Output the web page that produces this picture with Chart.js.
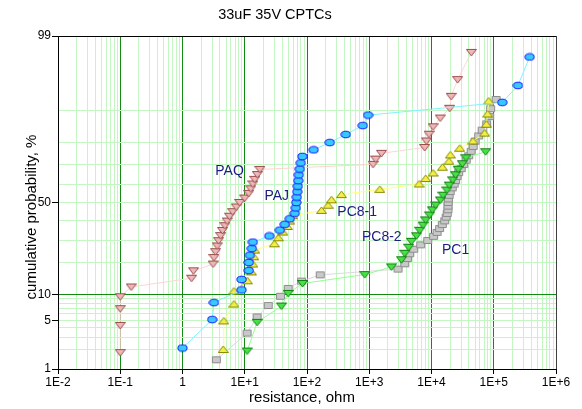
<!DOCTYPE html>
<html>
<head>
<meta charset="utf-8">
<script src="https://cdn.jsdelivr.net/npm/chart.js@4.4.0/dist/chart.umd.min.js"></script>
<style>
  html, body { margin: 0; padding: 0; background: #fff; }
</style>
</head>
<body>
<canvas id="chart" width="582" height="409"></canvas>
<script>
// failure data: resistance (ohm) against cumulative probability (%)
var seriesNames = ['PAJ', 'PAQ', 'PC8-1', 'PC8-2', 'PC1'];

var pajOhm = [1.0, 3.0, 3.2, 8.9, 8.9, 11.6, 11.6, 12.1, 13.0, 13.5, 24.8, 36.6, 44.0, 52.9, 63.7, 66.1, 67.3, 68.6, 69.8, 71.1, 72.4, 73.8, 76.6, 79.4, 84.1, 128, 232, 420, 787, 957, 137000, 245000, 377000];
var pajPct = [2.1, 5.1, 8.1, 11.1, 14.1, 17.1, 20.1, 23.1, 26.0, 29.0, 32.0, 35.0, 38.0, 41.0, 44.0, 47.0, 50.0, 53.0, 56.0, 59.0, 62.0, 65.0, 68.0, 71.0, 74.0, 76.9, 79.9, 82.9, 85.9, 88.9, 91.9, 94.9, 97.9];

var paqOhm = [0.1, 0.1, 0.1, 0.1, 0.15, 1.4, 1.5, 3.1, 3.2, 3.4, 3.6, 3.8, 4.1, 4.4, 4.8, 5.2, 5.7, 6.4, 7.3, 8.3, 10, 11.6, 12.5, 13.5, 14.5, 15.9, 17.5, 1150, 1270, 1570, 7780, 8280, 9120, 10600, 13800, 19600, 20700, 26300, 43700];
var paqPct = [1.8, 4.3, 6.9, 9.4, 11.9, 14.5, 17.0, 19.5, 22.1, 24.6, 27.2, 29.7, 32.2, 34.8, 37.3, 39.8, 42.4, 44.9, 47.5, 50.0, 52.5, 55.1, 57.6, 60.2, 62.7, 65.2, 67.8, 70.3, 72.8, 75.4, 77.9, 80.5, 83.0, 85.5, 88.1, 90.6, 93.1, 95.7, 98.2];

var pc81Ohm = [4.5, 4.6, 6.7, 6.7, 11.0, 12.8, 13.5, 14.0, 14.5, 29.9, 34.6, 40.9, 48.3, 52.9, 59.2, 171, 218, 247, 358, 1480, 6300, 8070, 10600, 15000, 19100, 20100, 28400, 46400, 71400, 76000, 79800, 82800];
var pc81Pct = [2.0, 4.9, 7.8, 10.8, 13.7, 16.6, 19.5, 22.4, 25.3, 28.2, 31.1, 34.0, 36.9, 39.8, 42.7, 45.6, 48.5, 51.5, 54.4, 57.3, 60.2, 63.1, 66.0, 68.9, 71.8, 74.7, 77.6, 80.5, 83.4, 86.3, 89.2, 92.2];

var pc82Ohm = [10.9, 15.8, 39.0, 49.8, 84.7, 847, 2270, 3290, 3720, 4310, 4750, 5730, 6470, 7310, 8070, 9350, 10300, 11700, 13900, 15300, 17700, 19200, 21900, 24400, 26800, 31300, 35800, 74100];
var pc82Pct = [1.9, 4.7, 7.4, 10.2, 12.9, 15.7, 18.4, 21.2, 23.9, 26.6, 29.4, 32.1, 34.9, 37.6, 40.4, 43.1, 45.9, 48.6, 51.4, 54.1, 56.9, 59.6, 62.4, 65.1, 67.9, 70.6, 73.4, 76.1];

var pc1Ohm = [3.5, 10.9, 15.8, 23.8, 37.6, 49.8, 81.6, 163, 2900, 3720, 4100, 4470, 5180, 6710, 8690, 10800, 12300, 13500, 14900, 16300, 17200, 17900, 18400, 18400, 18500, 18700, 19200, 20000, 21500, 23100, 24400, 25800, 27300, 30000, 32900, 36100, 39500, 43400, 46700, 50200, 57200, 65200, 76900, 85900, 89100, 109000];
var pc1Pct = [1.4, 3.4, 5.5, 7.5, 9.5, 11.5, 13.6, 15.6, 17.6, 19.6, 21.7, 23.7, 25.7, 27.7, 29.8, 31.8, 33.8, 35.8, 37.9, 39.9, 41.9, 43.9, 46.0, 48.0, 50.0, 52.0, 54.0, 56.1, 58.1, 60.1, 62.1, 64.2, 66.2, 68.2, 70.2, 72.3, 74.3, 76.3, 78.3, 80.4, 82.4, 84.4, 86.4, 88.5, 90.5, 92.5];

// where each series name is written (ohm, %)
var labelOhm = [32.7, 5.7, 640, 1590, 24400];
var labelPct = [53.8, 67, 44.9, 31.6, 25.2];

// axes
var decades = [0.01, 0.1, 1, 10, 100, 1000, 10000, 100000, 1000000];
var xTickLabels = ['1E-2', '1E-1', '1', '1E+1', '1E+2', '1E+3', '1E+4', '1E+5', '1E+6'];
var probLabels = [1, 5, 10, 50, 99];
var probGrid = [1, 2, 3, 4, 5, 6, 7, 8, 9, 10, 20, 30, 40, 50, 60, 70, 80, 90, 99];

var GRID_LIGHT = '#c4f6c4';
var GRID_DARK = '#108c10';

// inverse of the standard normal CDF (Acklam)
function probit(p) {
  var a = [-3.969683028665376e+01, 2.209460984245205e+02, -2.759285104469687e+02, 1.383577518672690e+02, -3.066479806614716e+01, 2.506628277459239e+00];
  var b = [-5.447609879822406e+01, 1.615858368580409e+02, -1.556989798598866e+02, 6.680131188771972e+01, -1.328068155288572e+01];
  var c = [-7.784894002430293e-03, -3.223964580411365e-01, -2.400758277161838e+00, -2.549732539343734e+00, 4.374664141464968e+00, 2.938163982698783e+00];
  var d = [7.784695709041462e-03, 3.224671290700398e-01, 2.445134137142996e+00, 3.754408661907416e+00];
  var q, r;
  if (p < 0.02425) {
    q = Math.sqrt(-2 * Math.log(p));
    return (((((c[0]*q+c[1])*q+c[2])*q+c[3])*q+c[4])*q+c[5]) / ((((d[0]*q+d[1])*q+d[2])*q+d[3])*q+1);
  }
  if (p > 1 - 0.02425) {
    q = Math.sqrt(-2 * Math.log(1 - p));
    return -(((((c[0]*q+c[1])*q+c[2])*q+c[3])*q+c[4])*q+c[5]) / ((((d[0]*q+d[1])*q+d[2])*q+d[3])*q+1);
  }
  q = p - 0.5; r = q * q;
  return (((((a[0]*r+a[1])*r+a[2])*r+a[3])*r+a[4])*r+a[5])*q / (((((b[0]*r+b[1])*r+b[2])*r+b[3])*r+b[4])*r+1);
}

// normal CDF, for pixel -> value
function normCdf(z) {
  var t = 1 / (1 + 0.2316419 * Math.abs(z));
  var y = 0.3989423 * Math.exp(-z * z / 2) * t * (0.3193815 + t * (-0.3565638 + t * (1.781478 + t * (-1.821256 + t * 1.330274))));
  return z > 0 ? 1 - y : y;
}

// normal probability paper axis, values in %
class ProbitScale extends Chart.LinearScale {
  determineDataLimits() {
    this.min = this.options.min;
    this.max = this.options.max;
  }
  buildTicks() {
    return probGrid.map(function (v) { return { value: v }; });
  }
  getPixelForValue(value) {
    var z0 = probit(this.min / 100), z1 = probit(this.max / 100);
    return this.getPixelForDecimal((probit(value / 100) - z0) / (z1 - z0));
  }
  getValueForPixel(pixel) {
    var z0 = probit(this.min / 100), z1 = probit(this.max / 100);
    return 100 * normCdf(z0 + this.getDecimalForPixel(pixel) * (z1 - z0));
  }
}
ProbitScale.id = 'probit';
ProbitScale.defaults = {};
Chart.register(ProbitScale);

function near(v, w) { return Math.abs(v / w - 1) < 1e-6; }
function decadeIndex(v) {
  for (var i = 0; i < decades.length; i++) if (near(v, decades[i])) return i;
  return -1;
}

var xGrid = [];
for (var e = -2; e <= 5; e++) {
  for (var m = 1; m <= 9; m++) xGrid.push(+(m * Math.pow(10, e)).toPrecision(3));
}
xGrid.push(1e6);

// squashed markers as small canvases
function marker(shape, fill, stroke) {
  var cv = document.createElement('canvas');
  cv.width = 11; cv.height = 9;
  var g = cv.getContext('2d');
  g.fillStyle = fill; g.strokeStyle = stroke; g.lineWidth = 1;
  g.beginPath();
  if (shape === 'down') {
    g.moveTo(0.5, 1.5); g.lineTo(10.5, 1.5); g.lineTo(5.5, 8); g.closePath();
  } else if (shape === 'up') {
    g.moveTo(0.5, 7.5); g.lineTo(10.5, 7.5); g.lineTo(5.5, 1); g.closePath();
  } else if (shape === 'oval') {
    g.ellipse(5.5, 4.5, 4.6, 3.3, 0, 0, Math.PI * 2);
  } else {
    g.rect(1.5, 1.5, 8, 6);
  }
  g.fill(); g.stroke();
  return cv;
}

function pairs(xs, ys) {
  return xs.map(function (x, i) { return { x: x, y: ys[i] }; });
}

var styles = [
  { pts: pairs(pajOhm, pajPct), line: '#80f4ff', mark: marker('oval', '#38c8ff', '#1010ff') },
  { pts: pairs(paqOhm, paqPct), line: '#ffd4d4', mark: marker('down', '#ecb8b8', '#9c4c4c') },
  { pts: pairs(pc81Ohm, pc81Pct), line: '#ffff78', mark: marker('up', '#f2f048', '#8a8a00') },
  { pts: pairs(pc82Ohm, pc82Pct), line: '#90ff90', mark: marker('down', '#48e048', '#108010') },
  { pts: pairs(pc1Ohm, pc1Pct), line: '#dadada', mark: marker('square', '#c8c8c8', '#8c8c8c') }
];

var datasets = styles.map(function (s, i) {
  return {
    label: seriesNames[i],
    data: s.pts,
    showLine: true,
    borderColor: s.line,
    borderWidth: 1,
    pointStyle: s.mark,
    pointRadius: 5,
    order: i
  };
});

// title, axis titles and series names
var textPlugin = {
  id: 'texts',
  afterDraw: function (chart) {
    var ctx = chart.ctx;
    var xs = chart.scales.x, ys = chart.scales.y;
    ctx.save();
    ctx.fillStyle = '#000';
    ctx.textAlign = 'center';
    ctx.textBaseline = 'middle';
    ctx.font = '14.5px "Liberation Sans", Arial, sans-serif';
    ctx.fillText('33uF 35V CPTCs', 275, 15);
    ctx.font = '15px "Liberation Sans", Arial, sans-serif';
    ctx.fillText('resistance, ohm', 302, 398);
    ctx.translate(32, 217);
    ctx.rotate(-Math.PI / 2);
    ctx.fillText('cumulative probability, %', 0, 0);
    ctx.restore();

    ctx.save();
    ctx.fillStyle = '#1c1c84';
    ctx.textAlign = 'center';
    ctx.textBaseline = 'middle';
    ctx.font = '14px "Liberation Sans", Arial, sans-serif';
    seriesNames.forEach(function (name, i) {
      ctx.fillText(name, xs.getPixelForValue(labelOhm[i]), ys.getPixelForValue(labelPct[i]));
    });
    ctx.restore();
  }
};

Chart.defaults.font.family = '"Liberation Sans", Arial, sans-serif';
Chart.defaults.color = '#000';

new Chart(document.getElementById('chart'), {
  type: 'scatter',
  data: { datasets: datasets },
  plugins: [textPlugin],
  options: {
    responsive: false,
    devicePixelRatio: 1,
    animation: false,
    events: [],
    layout: { padding: { top: 36, right: 26, left: 0, bottom: 0 } },
    plugins: { legend: { display: false }, tooltip: { enabled: false }, title: { display: false } },
    scales: {
      x: {
        type: 'logarithmic',
        position: 'bottom',
        min: 0.01,
        max: 1e6,
        afterBuildTicks: function (scale) {
          scale.ticks = xGrid.map(function (v) { return { value: v }; });
        },
        afterFit: function (scale) { scale.height = 40; },
        border: { display: true, color: '#000', width: 1 },
        grid: {
          lineWidth: 1,
          tickLength: 5,
          color: function (c) {
            var v = c.tick ? c.tick.value : 0;
            if (near(v, 0.01)) return '#000';
            if (near(v, 1e6)) return '#404040';
            return decadeIndex(v) >= 0 ? GRID_DARK : GRID_LIGHT;
          },
          tickColor: function (c) {
            return c.tick && decadeIndex(c.tick.value) >= 0 ? '#000' : 'rgba(0,0,0,0)';
          }
        },
        ticks: {
          autoSkip: false,
          maxRotation: 0,
          padding: 1,
          font: { size: 12 },
          callback: function (v) {
            var i = decadeIndex(v);
            return i >= 0 ? xTickLabels[i] : '';
          }
        }
      },
      y: {
        type: 'probit',
        position: 'left',
        min: 1,
        max: 99,
        afterFit: function (scale) { scale.width = 58; },
        border: { display: true, color: '#000', width: 1 },
        grid: {
          lineWidth: 1,
          tickLength: 6,
          color: function (c) {
            var v = c.tick ? c.tick.value : 0;
            if (v === 99 || v === 1) return '#000';
            return v === 10 ? GRID_DARK : GRID_LIGHT;
          },
          tickColor: function (c) {
            return c.tick && probLabels.indexOf(c.tick.value) >= 0 ? '#000' : 'rgba(0,0,0,0)';
          }
        },
        ticks: {
          autoSkip: false,
          padding: 1,
          font: { size: 12 },
          callback: function (v) {
            return probLabels.indexOf(v) >= 0 ? String(v) : '';
          }
        }
      }
    }
  }
});
</script>
</body>
</html>
